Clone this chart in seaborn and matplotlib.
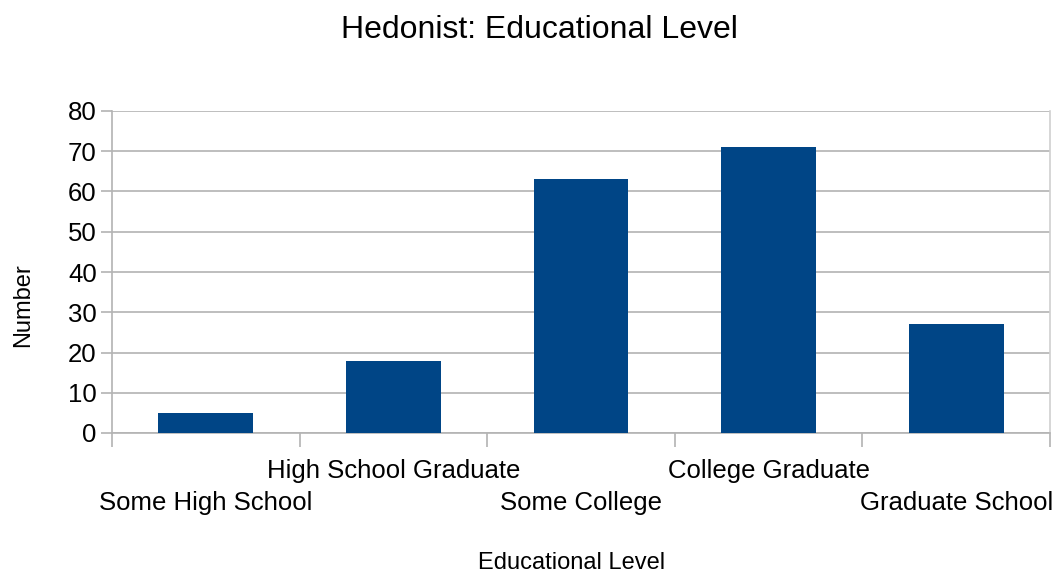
import matplotlib
matplotlib.use("Agg")
import matplotlib.pyplot as plt
import matplotlib.transforms as mtransforms
import seaborn as sns
import pandas as pd
import numpy as np

categories = ["Some High School", "High School Graduate", "Some College",
              "College Graduate", "Graduate School"]
counts = [5, 18, 63, 71, 27]
y_ticks = [0, 10, 20, 30, 40, 50, 60, 70, 80]

sns.set_theme(style="white")
plt.rcParams['font.family'] = ['Liberation Sans', 'DejaVu Sans']
plt.rcParams['text.color'] = 'black'
plt.rcParams['axes.labelcolor'] = 'black'
plt.rcParams['xtick.labelcolor'] = 'black'
plt.rcParams['ytick.labelcolor'] = 'black'

df = pd.DataFrame({"Educational Level": categories, "Number": counts})

fig = plt.figure(figsize=(10.62, 5.73), dpi=100)
ax = fig.add_axes([112/1062, 1-433/573, (1050-112)/1062, (433-111)/573])

sns.barplot(data=df, x="Educational Level", y="Number", color="#004586",
            saturation=1, width=0.505, ax=ax, zorder=3, linewidth=0)

grid_c = "#b3b3b3"
ax.set_ylim(0, 80)
ax.set_xlim(-0.5, len(categories) - 0.5)
ax.set_yticks(y_ticks)
ax.set_yticklabels([str(v) for v in y_ticks], fontsize=18.5)
ax.yaxis.grid(True, color=grid_c, linewidth=1.2, zorder=0)
ax.set_axisbelow(True)
ax.tick_params(axis="y", length=8, width=1.2, color=grid_c, pad=3, left=True)

# category labels, staggered
ax.set_xticks(range(len(categories)))
ax.set_xticklabels(categories, fontsize=18.5)
ax.tick_params(axis="x", which="major", length=0, pad=19)
ax.set_xticks(np.arange(-0.5, len(categories), 1.0), minor=True)
ax.tick_params(axis="x", which="minor", length=10, width=1.2, color=grid_c, bottom=True)
shift = mtransforms.ScaledTranslation(0, -32/100, fig.dpi_scale_trans)
for i, lab in enumerate(ax.get_xticklabels()):
    if i % 2 == 0:
        lab.set_transform(lab.get_transform() + shift)

ax.spines["top"].set_visible(False)
ax.spines["left"].set_color(grid_c)
ax.spines["left"].set_linewidth(1.2)
ax.spines["bottom"].set_color(grid_c)
ax.spines["bottom"].set_linewidth(1.2)
ax.spines["right"].set_color("#d0d0d0")
ax.spines["right"].set_linewidth(1.2)

ax.set_xlabel("Educational Level", fontsize=17)
ax.set_ylabel("Number", fontsize=17)
ax.xaxis.set_label_coords((572-112)/938, -(563-433)/322)
ax.xaxis.label.set_va("center")
ax.yaxis.set_label_coords(-(112-23)/938, (433-305)/322)
ax.yaxis.label.set_va("center")
fig.suptitle("Hedonist: Educational Level", fontsize=23, x=539/1062, y=1-30/573, va="center")

fig.savefig("out.png", dpi=100, facecolor="white")
